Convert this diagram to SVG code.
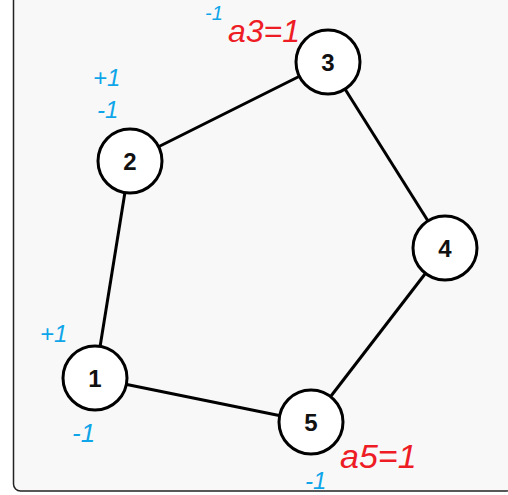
<svg xmlns="http://www.w3.org/2000/svg" width="508" height="495" viewBox="0 0 508 495">
<style>
.node circle{fill:#fff;stroke:#000;stroke-width:3}
.node text{font-family:"Liberation Sans",Arial,sans-serif;font-weight:bold;font-size:24px;text-anchor:middle;fill:#111}
.edges line{stroke:#000;stroke-width:3}
.red{fill:#ee1c25;font-family:"Liberation Sans",sans-serif;font-style:italic}
.blue{fill:#0ea5e9;font-family:"Liberation Sans",sans-serif;font-style:italic}
</style>
<rect x="13.5" y="-6" width="500" height="497" rx="7" fill="#f8f8f8" stroke="#222" stroke-width="1.5"/>
<g class="edges">
<line x1="95" y1="378" x2="130" y2="161"/>
<line x1="130" y1="161" x2="328" y2="62"/>
<line x1="328" y1="62" x2="445" y2="248"/>
<line x1="445" y1="248" x2="311" y2="422"/>
<line x1="311" y1="422" x2="95" y2="378"/>
</g>
<g id="node1" class="node"><circle cx="95" cy="378" r="32"/><text x="95" y="387">1</text></g>
<g id="node2" class="node"><circle cx="130" cy="161" r="32"/><text x="130" y="170">2</text></g>
<g id="node3" class="node"><circle cx="328" cy="62" r="32"/><text x="328" y="71">3</text></g>
<g id="node4" class="node"><circle cx="445" cy="248" r="32"/><text x="445" y="257">4</text></g>
<g id="node5" class="node"><circle cx="311" cy="422" r="32"/><text x="311" y="431">5</text></g>
<g id="annotations">
<text class="blue" x="205" y="20" font-size="20">-1</text>
<text class="red" x="228" y="42" font-size="32">a3=1</text>
<text class="blue" x="93" y="86" font-size="24">+1</text>
<text class="blue" x="97" y="118" font-size="24">-1</text>
<text class="blue" x="40" y="342" font-size="24">+1</text>
<text class="blue" x="72" y="442" font-size="26">-1</text>
<text class="red" x="340" y="468" font-size="34">a5=1</text>
<text class="blue" x="305" y="489" font-size="24">-1</text>
</g>
</svg>
